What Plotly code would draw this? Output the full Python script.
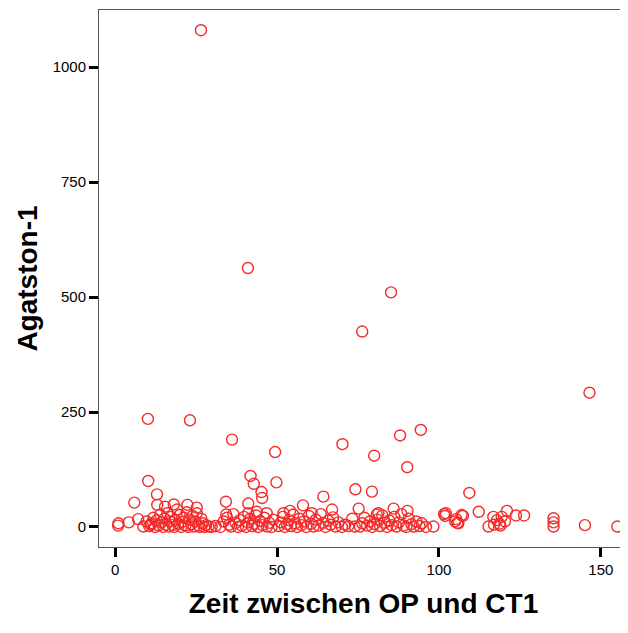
import plotly.graph_objects as go

# Zeit zwischen OP und CT1 (x) vs Agatston-1 (y)
zeit = [
    26.5, 41.0, 85.2, 76.3, 146.5, 10.1, 23.1, 36.1, 49.4, 70.2, 80.0, 88.0, 94.4, 90.2,
    10.2, 41.8, 42.8, 49.8, 45.2, 45.4, 12.9, 5.9, 34.2, 41.1, 74.2, 79.3, 109.4, 64.3,
    58.0, 67.0, 75.2, 86.0, 90.3, 13.0, 15.4, 18.1, 22.3, 25.2, 34.3, 41.1, 43.7, 46.8,
    54.0, 52.0, 60.7, 80.8, 81.3,
    0.9, 1.0, 4.2, 7.1, 8.7, 9.7, 11.0,
    10.5, 11.2, 11.8, 12.3, 12.8, 13.4, 13.9, 14.3, 14.8, 15.2, 15.7, 16.1, 16.5, 16.9,
    17.3, 17.8, 18.2, 18.6, 19.1, 19.5, 19.9, 20.4, 20.8, 21.2, 21.7, 22.1, 22.6, 23.0,
    23.5, 23.9, 24.3, 24.8, 25.2, 25.7, 26.1, 26.6, 27.1, 27.5, 28.1, 28.8, 29.8, 31.0, 32.5,
    33.5, 34.5, 35.2, 35.8, 36.5, 37.2, 37.9, 38.5, 39.1, 39.8, 40.4, 41.0, 41.7, 42.3,
    42.9, 43.5, 44.2, 44.8, 45.5, 46.1, 46.9, 47.6, 48.3, 48.8, 50.5,
    51.2, 51.8, 52.4, 53.1, 53.7, 54.3, 55.0, 55.6, 56.2, 56.9, 57.5, 58.3, 59.0, 59.8,
    60.5, 61.3, 62.0, 62.8, 63.5, 64.2, 65.0, 65.8, 66.5, 67.3, 68.1, 69.0, 70.0, 71.0,
    72.0, 73.2, 74.0,
    75.6, 76.3, 77.0, 77.8, 78.7, 79.4, 80.1, 81.0, 81.8, 82.5, 83.2, 84.0, 84.7, 85.4,
    86.2, 86.9, 87.6, 88.4, 89.1, 89.9, 90.7, 91.5, 92.2, 93.0, 94.0, 94.7, 96.0, 98.3,
    101.6, 101.9, 102.1, 105.0, 105.3, 105.7, 106.0, 107.0, 107.4, 112.3, 115.3, 116.8,
    117.9, 118.7, 119.4, 120.4, 121.0, 119.0, 117.0, 123.8, 126.3, 135.4, 135.4, 135.4,
    145.1, 155.1,
]
agatston = [
    1080, 563, 510, 425, 292, 235, 232, 190, 163, 180, 155, 199, 211, 130,
    100, 111, 94, 97, 76, 63, 71, 53, 55, 51, 82, 77, 74, 66,
    47, 38, 40, 40, 35, 48, 44, 49, 48, 42, 27, 30, 33, 30,
    35, 30, 30, 27, 30,
    3, 8, 10, 17, 1, 12, 5,
    2, 8, 20, 0, 14, 3, 27, 10, 0, 18, 5, 30, 1, 12,
    22, 4, 0, 15, 38, 7, 26, 0, 11, 20, 3, 32, 0, 16,
    6, 24, 1, 12, 30, 3, 0, 18, 8, 0, 4, 1, 0, 2, 0,
    12, 20, 5, 1, 28, 9, 0, 15, 3, 22, 0, 10, 18, 2,
    7, 25, 0, 13, 4, 20, 1, 9, 0, 16, 2,
    10, 22, 0, 6, 15, 2, 27, 8, 0, 18, 4, 12, 0, 24,
    7, 1, 16, 3, 28, 9, 0, 14, 5, 21, 1, 10, 0, 5,
    2, 18, 1,
    1, 8, 20, 3, 12, 0, 6, 16, 2, 25, 9, 0, 14, 4,
    22, 1, 10, 28, 3, 0, 18, 6, 1, 12, 2, 8, 0, 1,
    28, 24, 30, 12, 17, 9, 8, 26, 24, 33, 1, 22,
    15, 7, 22, 12, 35, 3, 5, 25, 25, 19, 10, 1,
    4, 1,
]

x_ticks = [0, 50, 100, 150]
y_ticks = [0, 250, 500, 750, 1000]

fig = go.Figure()
fig.add_trace(go.Scatter(
    x=zeit, y=agatston, mode="markers",
    marker=dict(symbol="circle-open", size=11, color="#f52a2a", line=dict(width=1.4)),
    showlegend=False,
))

# the page body adds an 8px margin, so the figure is 8px smaller and shifted
fig.update_layout(
    width=620, height=625,
    margin=dict(l=91, r=0, t=2, b=86),
    paper_bgcolor="white", plot_bgcolor="white",
    font=dict(family="Liberation Sans, Arial, sans-serif", color="black"),
)
fig.update_xaxes(
    range=[-5, 158.4], tickvals=x_ticks, showgrid=False, zeroline=False,
    showline=True, linecolor="#555", linewidth=1, mirror=True,
    ticks="outside", ticklen=9, tickwidth=3, tickcolor="black",
    tickfont=dict(size=15),
    title=dict(text="<b>Zeit zwischen OP und CT1</b>", font=dict(size=28), standoff=16),
)
fig.update_yaxes(
    range=[-43.5, 1124], tickvals=y_ticks, showgrid=False, zeroline=False,
    showline=True, linecolor="#555", linewidth=1,
    ticks="outside", ticklen=9, tickwidth=3, tickcolor="black",
    tickfont=dict(size=15),
    title=dict(text="<b>Agatston-1</b>", font=dict(size=28), standoff=6),
)

fig.write_html("out.html")
